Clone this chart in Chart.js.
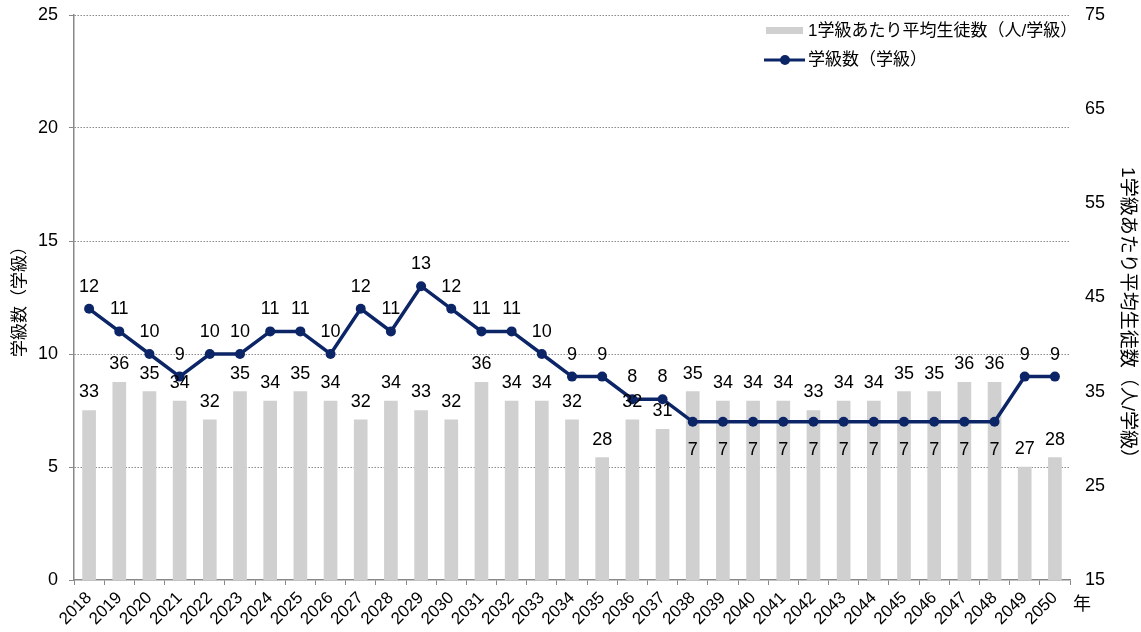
<!DOCTYPE html>
<html>
<head>
<meta charset="utf-8">
<script src="https://cdn.jsdelivr.net/npm/chart.js@4.4.1/dist/chart.umd.min.js"></script>
<style>
  html, body { margin: 0; padding: 0; background: #fff; }
  #wrap { width: 1141px; height: 632px; position: relative; }
</style>
</head>
<body>
<div id="wrap"><canvas id="chart" width="1141" height="632"></canvas></div>
<script>
const years = ['2018', '2019', '2020', '2021', '2022', '2023', '2024', '2025', '2026', '2027', '2028',
    '2029', '2030', '2031', '2032', '2033', '2034', '2035', '2036', '2037', '2038', '2039', '2040',
    '2041', '2042', '2043', '2044', '2045', '2046', '2047', '2048', '2049', '2050'];
const classCounts = [12, 11, 10, 9, 10, 10, 11, 11, 10, 12, 11, 13, 12, 11, 11, 10, 9, 9, 8, 8,
    7, 7, 7, 7, 7, 7, 7, 7, 7, 7, 7, 9, 9];
const studentsPerClass = [33, 36, 35, 34, 32, 35, 34, 35, 34, 32, 34, 33, 32, 36, 34, 34, 32, 28,
    32, 31, 35, 34, 34, 34, 33, 34, 34, 35, 35, 36, 36, 27, 28];
const leftTicks = [0, 5, 10, 15, 20, 25];
const rightTicks = [15, 25, 35, 45, 55, 65, 75];

const FONT = '"Liberation Sans", Arial, "Noto Sans CJK JP", sans-serif';
const LINE_COLOR = '#0c2566';
const BAR_COLOR = '#d0d0d0';

// data labels, legend, axis titles and the 年 label
const extras = {
    id: 'extras',
    afterDatasetsDraw(chart) {
        const ctx = chart.ctx;
        const area = chart.chartArea;
        ctx.save();
        ctx.font = '18px ' + FONT;
        ctx.fillStyle = '#000';
        ctx.textAlign = 'center';
        ctx.textBaseline = 'middle';
        chart.getDatasetMeta(1).data.forEach((bar, i) => {
            ctx.fillText(studentsPerClass[i], bar.x, bar.y - 18);
        });
        chart.getDatasetMeta(0).data.forEach((pt, i) => {
            const v = classCounts[i];
            ctx.fillText(v, pt.x, v <= 7 ? pt.y + 28 : pt.y - 22);
        });

        // legend
        const lx = 766;
        ctx.textAlign = 'left';
        ctx.font = '17px ' + FONT;
        ctx.fillStyle = BAR_COLOR;
        ctx.fillRect(lx, 27, 37, 7);
        ctx.fillStyle = '#000';
        ctx.fillText('1学級あたり平均生徒数（人/学級）', lx + 42, 31);
        ctx.strokeStyle = LINE_COLOR;
        ctx.lineWidth = 3;
        ctx.beginPath();
        ctx.moveTo(lx - 2, 60);
        ctx.lineTo(lx + 39, 60);
        ctx.stroke();
        ctx.fillStyle = LINE_COLOR;
        ctx.beginPath();
        ctx.arc(lx + 19, 60, 5, 0, Math.PI * 2);
        ctx.fill();
        ctx.fillStyle = '#000';
        ctx.fillText('学級数（学級）', lx + 42, 60);

        ctx.font = '18px ' + FONT;
        ctx.fillText('年', 1073, 605);

        // axis titles
        const midY = (area.top + area.bottom) / 2;
        ctx.textAlign = 'center';
        ctx.save();
        ctx.translate(20, midY);
        ctx.rotate(-Math.PI / 2);
        ctx.font = '17px ' + FONT;
        ctx.fillText('学級数（学級）', 0, 0);
        ctx.restore();

        ctx.save();
        ctx.translate(1127, midY + 20);
        ctx.rotate(Math.PI / 2);
        ctx.font = '19px ' + FONT;
        ctx.fillText('1学級あたり平均生徒数（人/学級）', 0, 0);
        ctx.restore();
        ctx.restore();
    }
};

const ctx = document.getElementById('chart').getContext('2d');
new Chart(ctx, {
    type: 'bar',
    data: {
        labels: years,
        datasets: [{
            type: 'line',
            label: '学級数（学級）',
            data: classCounts,
            yAxisID: 'y',
            borderColor: LINE_COLOR,
            backgroundColor: LINE_COLOR,
            borderWidth: 3.5,
            pointRadius: 5,
            pointBackgroundColor: LINE_COLOR,
            pointBorderWidth: 0,
            tension: 0,
            order: 0
        }, {
            label: '1学級あたり平均生徒数（人/学級）',
            data: studentsPerClass,
            yAxisID: 'y1',
            backgroundColor: BAR_COLOR,
            barThickness: 13,
            order: 1
        }]
    },
    options: {
        responsive: false,
        animation: false,
        layout: { padding: { top: 15, right: 0, left: 0, bottom: 0 } },
        plugins: {
            legend: { display: false },
            tooltip: { enabled: false }
        },
        scales: {
            x: {
                offset: true,
                grid: {
                    offset: true,
                    drawOnChartArea: false,
                    drawTicks: true,
                    tickLength: 5,
                    tickColor: '#888'
                },
                border: { color: '#888', width: 1.5 },
                ticks: {
                    autoSkip: false,
                    minRotation: 45,
                    maxRotation: 45,
                    padding: 3,
                    color: '#000',
                    font: { family: FONT, size: 17 }
                },
                afterFit(scale) {
                    scale.height = 52;
                    scale.paddingLeft = 0;
                    scale.paddingRight = 0;
                }
            },
            y: {
                position: 'left',
                min: 0,
                max: 25,
                afterBuildTicks(scale) { scale.ticks = leftTicks.map(v => ({ value: v })); },
                grid: {
                    color: ctx => ctx.tick.value === 0 ? 'rgba(0,0,0,0)' : '#8a8a8a',
                    lineWidth: 1,
                    tickLength: 5,
                    tickColor: '#888',
                    tickBorderDash: []
                },
                border: { color: '#888', width: 1.5, dash: [1.5, 1.5] },
                ticks: {
                    color: '#000',
                    padding: 11,
                    font: { family: FONT, size: 18 }
                },
                afterFit(scale) {
                    scale.width = 74;
                    scale.paddingTop = 0;
                    scale.paddingBottom = 0;
                }
            },
            y1: {
                position: 'right',
                min: 15,
                max: 75,
                afterBuildTicks(scale) { scale.ticks = rightTicks.map(v => ({ value: v })); },
                grid: { display: false, drawOnChartArea: false },
                border: { display: false },
                ticks: {
                    color: '#000',
                    padding: 7,
                    font: { family: FONT, size: 18 }
                },
                afterFit(scale) {
                    scale.width = 71;
                    scale.paddingTop = 0;
                    scale.paddingBottom = 0;
                }
            }
        }
    },
    plugins: [extras]
});
</script>
</body>
</html>
